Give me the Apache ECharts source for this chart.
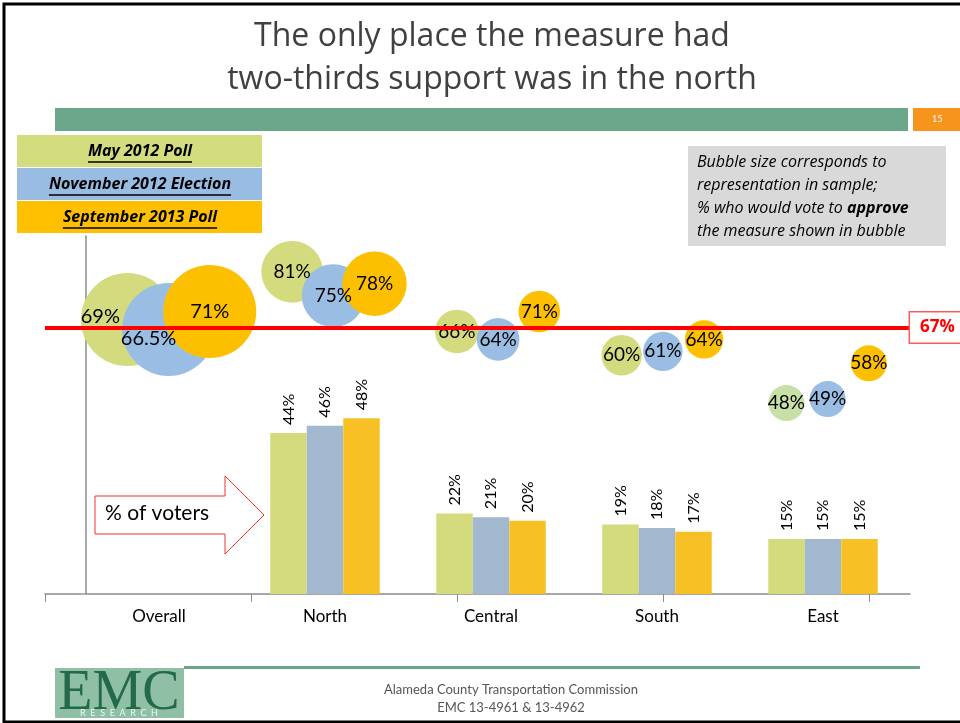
<!DOCTYPE html>
<html>
<head>
<meta charset="utf-8">
<style>
  html, body { margin: 0; padding: 0; background: #fff; }
  #chart { width: 960px; height: 723px; }
</style>
<script src="https://cdn.jsdelivr.net/npm/echarts@6/dist/echarts.min.js"></script>
</head>
<body>
<div id="chart"></div>
<script>
(function () {
  'use strict';

  // regions and polls
  var categories = ['Overall', 'North', 'Central', 'South', 'East'];
  var pollNames = ['May 2012 Poll', 'November 2012 Election', 'September 2013 Poll'];

  // % who would vote to approve (bubble height)
  var supportMay = [69, 81, 66, 60, 48];
  var supportNov = [66.5, 75, 64, 61, 49];
  var supportSep = [71, 78, 71, 64, 58];

  // % of voters (bars, and bubble size); Overall has no bar
  var shareMay = [null, 44, 22, 19, 15];
  var shareNov = [null, 46, 21, 18, 15];
  var shareSep = [null, 48, 20, 17, 15];

  var threshold = 67;

  var FONT = 'Lato, "Open Sans", sans-serif';
  var CAL = '"Open Sans", "Liberation Sans", sans-serif';
  var barColors = ['#d4db7d', '#a1b8cf', '#f7c126'];
  var bubbleColors = ['#d3db7e', '#9abde3', '#fdc000'];
  var legendColors = ['#d4dd7d', '#99bce3', '#fec000'];

  var supports = [supportMay, supportNov, supportSep];
  var shares = [shareMay, shareNov, shareSep];

  function measure(text, font) {
    var c = document.createElement('canvas').getContext('2d');
    c.font = font;
    return c.measureText(text).width;
  }

  // bubble placement along the bubble x axis: each region a group of three
  function bubbleX(group, poll) {
    return 0.4 + 0.8 * group + 0.2 * poll;
  }

  function bubbleSize(v) {
    return 9.3 * Math.sqrt(v[2]);
  }

  var series = [];

  // threshold line (drawn under the bubbles)
  series.push({
    type: 'line',
    xAxisIndex: 1,
    yAxisIndex: 1,
    data: [],
    z: 1,
    silent: true,
    markLine: {
      symbol: 'none',
      silent: true,
      lineStyle: { color: '#ff0000', width: 4, type: 'solid' },
      label: {
        show: true,
        position: 'end',
        distance: 0,
        formatter: threshold + '%',
        color: '#ff0000',
        fontWeight: 'bold',
        fontSize: 17,
        fontFamily: CAL,
        backgroundColor: '#fff',
        borderColor: '#ff5a5a',
        borderWidth: 1.5,
        padding: [7, 12, 6, 10]
      },
      data: [{ yAxis: threshold }]
    }
  });

  // bars: % of voters
  for (var p = 0; p < 3; p += 1) {
    series.push({
      name: pollNames[p],
      type: 'bar',
      xAxisIndex: 0,
      yAxisIndex: 0,
      barWidth: 36.5,
      barGap: '0%',
      data: shares[p].map(function (v) { return v === null ? '-' : v; }),
      itemStyle: { color: barColors[p] },
      label: {
        show: true,
        position: 'top',
        rotate: 90,
        align: 'left',
        verticalAlign: 'middle',
        distance: 8,
        formatter: '{c}%',
        color: '#000',
        fontSize: 16,
        fontFamily: FONT
      },
      z: 2
    });
  }

  // bubbles: support, sized by representation in sample
  var labelNudge = { '0-0': [-27, -3], '0-1': [-20, 9] };
  var labelPts = [];
  for (var q = 0; q < 3; q += 1) {
    var pts = [];
    for (var g = 0; g < categories.length; g += 1) {
      var share = shares[q][g] === null ? 100 : shares[q][g];
      var val = [bubbleX(g, q), supports[q][g], share];
      var pt = { value: val };
      if (q === 0 && g === 4) {
        pt.itemStyle = { color: '#c8dfa8' };
      }
      pts.push(pt);

      var lp = { value: val };
      var nudge = labelNudge[g + '-' + q];
      if (nudge) {
        lp.label = { offset: nudge, fontSize: 20 };
      } else if (g === 0) {
        lp.label = { fontSize: 20 };
      }
      labelPts.push(lp);
    }
    series.push({
      name: pollNames[q] + ' support',
      type: 'scatter',
      xAxisIndex: 1,
      yAxisIndex: 1,
      data: pts,
      symbolSize: bubbleSize,
      itemStyle: { color: bubbleColors[q], opacity: 1 },
      z: 3
    });
  }

  // bubble labels on top of every bubble
  series.push({
    name: 'support labels',
    type: 'scatter',
    xAxisIndex: 1,
    yAxisIndex: 1,
    data: labelPts,
    symbolSize: bubbleSize,
    itemStyle: { color: 'rgba(0,0,0,0)', opacity: 1 },
    silent: true,
    label: {
      show: true,
      position: 'inside',
      formatter: function (prm) { return prm.value[1] + '%'; },
      color: '#000',
      textBorderWidth: 0,
      fontSize: 19,
      fontFamily: FONT
    },
    z: 4
  });

  // legend boxes, note box, header and footer decorations
  var graphics = [];

  graphics.push({
    type: 'rect', left: 1.5, top: 1.5, z: 0,
    shape: { width: 990, height: 718 },
    style: { fill: 'none', stroke: '#000', lineWidth: 3 }
  });
  graphics.push({
    type: 'rect', left: 55, top: 108,
    shape: { width: 853, height: 23 },
    style: { fill: '#6aa689' }
  });
  graphics.push({
    type: 'rect', left: 913, top: 108,
    shape: { width: 50, height: 23 },
    style: { fill: '#f7941d' }
  });
  graphics.push({
    type: 'text', left: 932, top: 115,
    style: { text: '15', fill: '#fff', font: '9px ' + FONT }
  });

  var legendFont = 'italic bold 16px ' + CAL;
  for (var k = 0; k < pollNames.length; k += 1) {
    var top = 135 + k * 33;
    var w = measure(pollNames[k], legendFont);
    graphics.push({
      type: 'rect', left: 17, top: top,
      shape: { width: 245, height: 32 },
      style: { fill: legendColors[k] }
    });
    graphics.push({
      type: 'text', x: 140, y: top + 16,
      style: {
        text: pollNames[k], fill: '#000', font: legendFont,
        textAlign: 'center', textVerticalAlign: 'middle'
      }
    });
    graphics.push({
      type: 'line',
      shape: { x1: 140 - w / 2, y1: top + 27, x2: 140 + w / 2, y2: top + 27 },
      style: { stroke: '#000', lineWidth: 1.5 }
    });
  }

  graphics.push({
    type: 'rect', left: 688, top: 146,
    shape: { width: 258, height: 100 },
    style: { fill: '#d9d9d9' }
  });
  graphics.push({
    type: 'text', left: 697, top: 151,
    style: {
      text: 'Bubble size corresponds to\nrepresentation in sample;\n% who would vote to {b|approve}\nthe measure shown in bubble',
      fill: '#000',
      font: 'italic 16px ' + CAL,
      lineHeight: 23,
      rich: { b: { fontWeight: 'bold', fontStyle: 'italic', fontSize: 16, fontFamily: CAL, fill: '#000' } }
    }
  });

  // "% of voters" arrow
  graphics.push({
    type: 'polygon',
    shape: { points: [[95, 496], [225, 496], [225, 476], [264, 515], [225, 554], [225, 534], [95, 534]] },
    style: { fill: '#fff', stroke: '#ee3333', lineWidth: 1 },
    z: 5
  });
  graphics.push({
    type: 'text', left: 105, top: 503, z: 6,
    style: { text: '% of voters', fill: '#000', font: '21px ' + FONT }
  });

  // footer
  graphics.push({
    type: 'rect', left: 184, top: 666,
    shape: { width: 736, height: 3 },
    style: { fill: '#6aa689' }
  });
  graphics.push({
    type: 'rect', left: 55, top: 668,
    shape: { width: 129, height: 50 },
    style: { fill: '#8fc0a6' }
  });
  graphics.push({
    type: 'text', x: 119, y: 666,
    style: {
      text: 'EMC', fill: '#24694a', font: '56px "Liberation Serif", "DejaVu Serif", serif',
      textAlign: 'center'
    }
  });
  graphics.push({
    type: 'text', x: 119, y: 709,
    style: {
      text: 'R  E  S  E  A  R  C  H', fill: '#eef6f1', font: '9px ' + FONT,
      textAlign: 'center'
    }
  });
  graphics.push({
    type: 'text', x: 511, y: 681,
    style: {
      text: 'Alameda County Transportation Commission\nEMC 13-4961 & 13-4962',
      fill: '#555', font: '13px ' + FONT, textAlign: 'center', lineHeight: 18
    }
  });

  var option = {
    animation: false,
    backgroundColor: '#fff',
    title: {
      text: 'The only place the measure had\ntwo-thirds support was in the north',
      left: 487,
      top: 10,
      textAlign: 'center',
      textStyle: {
        color: '#404040',
        fontSize: 32,
        fontWeight: 'normal',
        fontFamily: CAL,
        lineHeight: 43
      }
    },
    grid: [
      { left: 76, right: 54, top: 228, bottom: 129 },
      { left: 45, right: 50, top: 236, bottom: 129 }
    ],
    xAxis: [
      {
        type: 'category',
        gridIndex: 0,
        data: categories,
        axisLine: { show: false },
        axisTick: { show: false },
        axisLabel: { color: '#000', fontSize: 17, fontFamily: FONT, margin: 14 }
      },
      {
        type: 'value',
        gridIndex: 1,
        min: 0,
        max: 4.2,
        interval: 1,
        axisLine: { show: true, lineStyle: { color: '#8c8c8c', width: 1.5 } },
        axisTick: { show: true, length: 8, customValues: [0, 1, 2, 3, 4], lineStyle: { color: '#8c8c8c' } },
        axisLabel: { show: false },
        splitLine: { show: false }
      }
    ],
    yAxis: [
      {
        type: 'value',
        gridIndex: 0,
        min: 0,
        max: 100,
        show: false
      },
      {
        type: 'value',
        gridIndex: 1,
        min: 0,
        max: 90,
        offset: -41,
        axisLine: { show: true, lineStyle: { color: '#8c8c8c', width: 1.5 } },
        axisTick: { show: true, length: 5, customValues: [0], lineStyle: { color: '#bbb' } },
        axisLabel: { show: false },
        splitLine: { show: false }
      }
    ],
    series: series,
    graphic: graphics
  };

  var chart = echarts.init(document.getElementById('chart'));
  chart.setOption(option);
})();
</script>
</body>
</html>
